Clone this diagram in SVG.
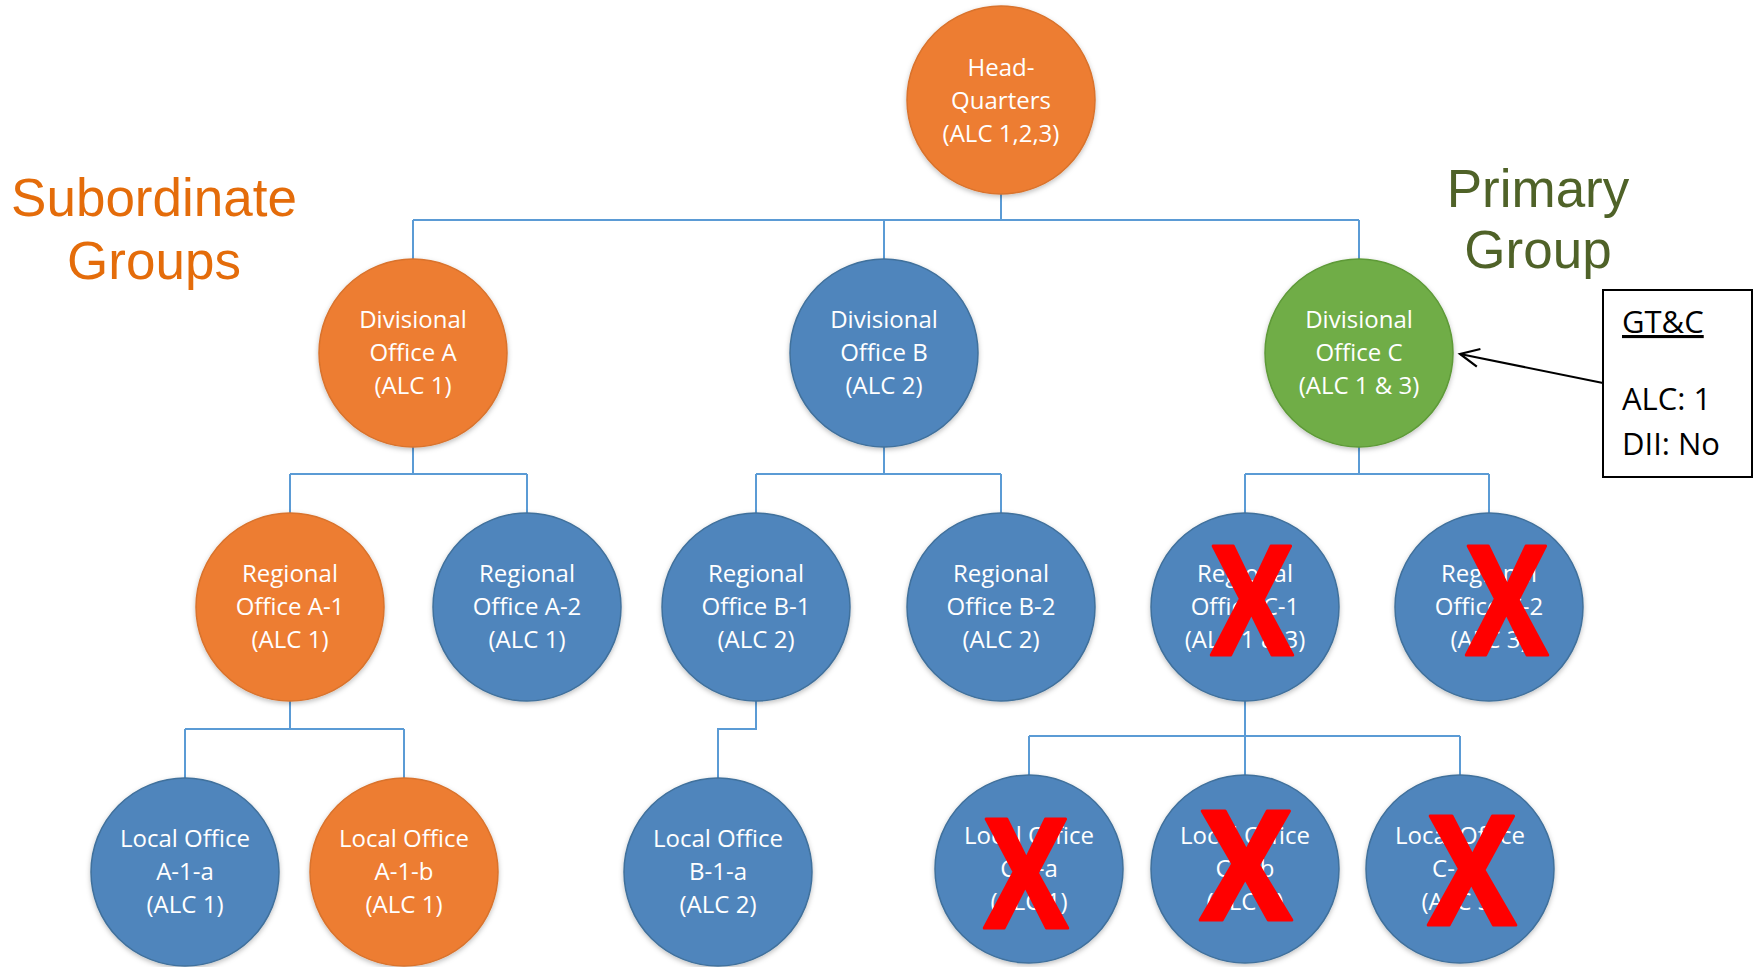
<svg xmlns="http://www.w3.org/2000/svg" width="1759" height="967" viewBox="0 0 1759 967">
<style>
.n circle{stroke-width:1.5}
.o circle{fill:#ED7D31;stroke:#D9732D}
.b circle{fill:#4F85BC;stroke:#41719C}
.g circle{fill:#70AD47;stroke:#5E9A38}
.n text{font-family:"Open Sans","Liberation Sans",sans-serif;font-size:24px;fill:#fff;text-anchor:middle}
.c path{fill:none;stroke:#5B9BD5;stroke-width:2}
.x{font-family:"Open Sans","Liberation Sans",sans-serif;font-weight:700;font-size:152px;fill:#FF0000;stroke:#FF0000;stroke-width:3;stroke-linejoin:round;text-anchor:middle}
.lab{font-family:"Liberation Sans",Arial,sans-serif;font-size:53px;text-anchor:middle}
.box{font-family:"Open Sans","Liberation Sans",sans-serif;font-size:31px;fill:#000}
</style>
<defs>
<filter id="sh" x="-20%" y="-20%" width="140%" height="140%">
<feDropShadow dx="0" dy="2" stdDeviation="2.5" flood-color="#000" flood-opacity="0.25"/>
</filter>
<marker id="arr" markerUnits="userSpaceOnUse" viewBox="-22 -12 26 24" refX="0" refY="0" markerWidth="26" markerHeight="24" orient="auto">
<path d="M-19,-9 L0,0 L-19,9" fill="none" stroke="#000" stroke-width="2.2"/>
</marker>
</defs>
<rect width="1759" height="967" fill="#fff"/>

<g id="connectors" class="c">
<path d="M1001,193 V220 M413,220 H1359 M413,220 V259 M884,220 V259 M1359,220 V259"/>
<path d="M413,447 V474 M290,474 H527 M290,474 V513 M527,474 V513"/>
<path d="M884,447 V474 M756,474 H1001 M756,474 V513 M1001,474 V513"/>
<path d="M1359,447 V474 M1245,474 H1489 M1245,474 V513 M1489,474 V513"/>
<path d="M290,701 V729 M185,729 H404 M185,729 V778 M404,729 V778"/>
<path d="M756,701 V729 H718 V778"/>
<path d="M1245,701 V736 M1029,736 H1460 M1029,736 V775 M1245,736 V775 M1460,736 V775"/>
</g>

<g id="hq" class="n o"><circle cx="1001" cy="100" r="94" filter="url(#sh)"/><text x="1001" y="76">Head-</text><text x="1001" y="109">Quarters</text><text x="1001" y="142">(ALC 1,2,3)</text></g>

<g id="div-a" class="n o"><circle cx="413" cy="353" r="94" filter="url(#sh)"/><text x="413" y="328">Divisional</text><text x="413" y="361">Office A</text><text x="413" y="394">(ALC 1)</text></g>
<g id="div-b" class="n b"><circle cx="884" cy="353" r="94" filter="url(#sh)"/><text x="884" y="328">Divisional</text><text x="884" y="361">Office B</text><text x="884" y="394">(ALC 2)</text></g>
<g id="div-c" class="n g"><circle cx="1359" cy="353" r="94" filter="url(#sh)"/><text x="1359" y="328">Divisional</text><text x="1359" y="361">Office C</text><text x="1359" y="394">(ALC 1 &amp; 3)</text></g>

<g id="reg-a1" class="n o"><circle cx="290" cy="607" r="94" filter="url(#sh)"/><text x="290" y="582">Regional</text><text x="290" y="615">Office A-1</text><text x="290" y="648">(ALC 1)</text></g>
<g id="reg-a2" class="n b"><circle cx="527" cy="607" r="94" filter="url(#sh)"/><text x="527" y="582">Regional</text><text x="527" y="615">Office A-2</text><text x="527" y="648">(ALC 1)</text></g>
<g id="reg-b1" class="n b"><circle cx="756" cy="607" r="94" filter="url(#sh)"/><text x="756" y="582">Regional</text><text x="756" y="615">Office B-1</text><text x="756" y="648">(ALC 2)</text></g>
<g id="reg-b2" class="n b"><circle cx="1001" cy="607" r="94" filter="url(#sh)"/><text x="1001" y="582">Regional</text><text x="1001" y="615">Office B-2</text><text x="1001" y="648">(ALC 2)</text></g>
<g id="reg-c1" class="n b"><circle cx="1245" cy="607" r="94" filter="url(#sh)"/><text x="1245" y="582">Regional</text><text x="1245" y="615">Office C-1</text><text x="1245" y="648">(ALC 1 &amp; 3)</text></g>
<g id="reg-c2" class="n b"><circle cx="1489" cy="607" r="94" filter="url(#sh)"/><text x="1489" y="582">Regional</text><text x="1489" y="615">Office C-2</text><text x="1489" y="648">(ALC 3)</text></g>

<g id="loc-a1a" class="n b"><circle cx="185" cy="872" r="94" filter="url(#sh)"/><text x="185" y="847">Local Office</text><text x="185" y="880">A-1-a</text><text x="185" y="913">(ALC 1)</text></g>
<g id="loc-a1b" class="n o"><circle cx="404" cy="872" r="94" filter="url(#sh)"/><text x="404" y="847">Local Office</text><text x="404" y="880">A-1-b</text><text x="404" y="913">(ALC 1)</text></g>
<g id="loc-b1a" class="n b"><circle cx="718" cy="872" r="94" filter="url(#sh)"/><text x="718" y="847">Local Office</text><text x="718" y="880">B-1-a</text><text x="718" y="913">(ALC 2)</text></g>
<g id="loc-c1a" class="n b"><circle cx="1029" cy="869" r="94" filter="url(#sh)"/><text x="1029" y="844">Local Office</text><text x="1029" y="877">C-1-a</text><text x="1029" y="910">(ALC 1)</text></g>
<g id="loc-c1b" class="n b"><circle cx="1245" cy="869" r="94" filter="url(#sh)"/><text x="1245" y="844">Local Office</text><text x="1245" y="877">C-1-b</text><text x="1245" y="910">(ALC 3)</text></g>
<g id="loc-c1c" class="n b"><circle cx="1460" cy="869" r="94" filter="url(#sh)"/><text x="1460" y="844">Local Office</text><text x="1460" y="877">C-1-c</text><text x="1460" y="910">(ALC 3)</text></g>

<g id="crosses">
<text class="x" x="1252" y="655" textLength="82" lengthAdjust="spacingAndGlyphs">X</text>
<text class="x" x="1507" y="655" textLength="82" lengthAdjust="spacingAndGlyphs">X</text>
<text class="x" x="1026" y="928" textLength="84" lengthAdjust="spacingAndGlyphs">X</text>
<text class="x" x="1246" y="920" textLength="92" lengthAdjust="spacingAndGlyphs">X</text>
<text class="x" x="1472" y="925" textLength="88" lengthAdjust="spacingAndGlyphs">X</text>
</g>

<g id="subordinate-label">
<text class="lab" fill="#E46C0A" x="154" y="216">Subordinate</text>
<text class="lab" fill="#E46C0A" x="154" y="279">Groups</text>
</g>
<g id="primary-label">
<text class="lab" fill="#4F6228" x="1538" y="207">Primary</text>
<text class="lab" fill="#4F6228" x="1538" y="268">Group</text>
</g>

<g id="gtc-box">
<rect x="1603" y="290" width="149" height="187" fill="#fff" stroke="#000" stroke-width="2"/>
<text class="box" x="1622" y="333" text-decoration="underline">GT&amp;C</text>
<text class="box" x="1622" y="410">ALC: 1</text>
<text class="box" x="1622" y="455">DII: No</text>
</g>
<g id="arrow">
<path d="M1603,383 L1460,354" stroke="#000" stroke-width="2" fill="none" marker-end="url(#arr)"/>
</g>
</svg>
